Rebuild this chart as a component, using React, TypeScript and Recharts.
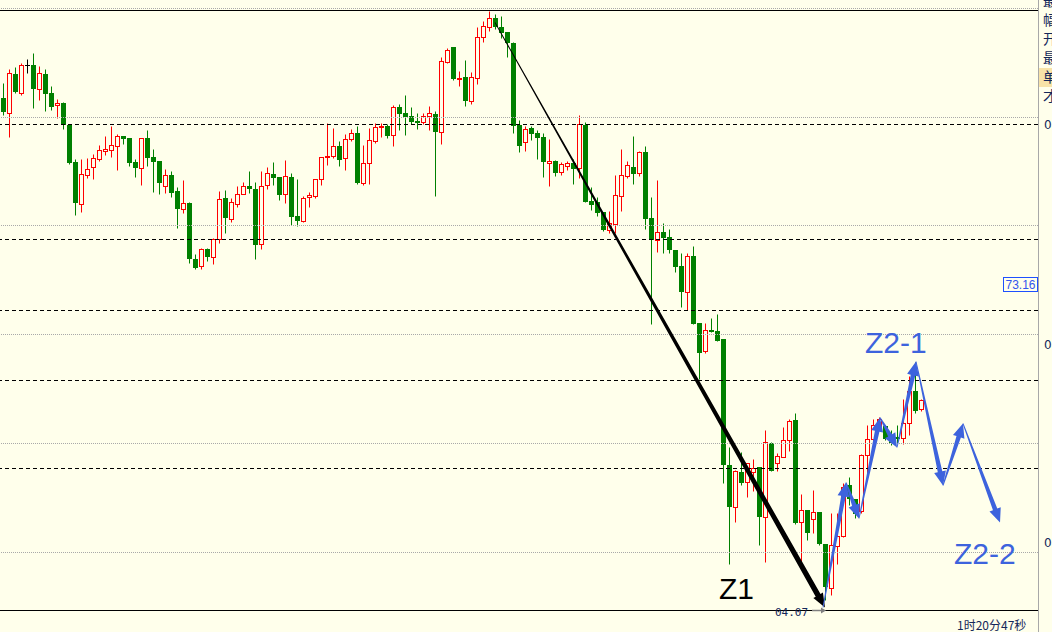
import React from 'react';
import { ComposedChart, Bar, Line, XAxis, YAxis, ReferenceLine } from 'recharts';

const BG = '#FFFFEB';
const UP = '#FF0000';
const DOWN = '#008000';
const BLUE = '#3D63DD';
const NAVY = '#14285A';

// OHLC in 1/10000 price units
const opens = [
  7512, 7497, 7536, 7517, 7545, 7545, 7521, 7536, 7517, 7505,
  7507, 7485, 7448, 7406, 7435, 7443, 7451, 7459, 7460, 7464,
  7474, 7472, 7448, 7442, 7472, 7453, 7449, 7424, 7435, 7419,
  7401, 7407, 7351, 7344, 7361, 7353, 7371, 7412, 7391, 7406,
  7416, 7424, 7421, 7366, 7425, 7436, 7433, 7416, 7433, 7394,
  7389, 7413, 7414, 7431, 7453, 7454, 7464, 7452, 7471, 7477,
  7427, 7447, 7469, 7483, 7484, 7475, 7503, 7497, 7494, 7489,
  7488, 7494, 7496, 7478, 7548, 7563, 7531, 7533, 7509, 7532,
  7573, 7583, 7592, 7583, 7578, 7567, 7485, 7468, 7482, 7477,
  7473, 7447, 7449, 7438, 7444, 7447, 7442, 7485, 7409, 7408,
  7398, 7380, 7386, 7414, 7434, 7443, 7437, 7458, 7392, 7370,
  7378, 7373, 7360, 7344, 7318, 7354, 7287, 7259, 7280, 7279,
  7271, 7145, 7103, 7138, 7128, 7138, 7143, 7093, 7167, 7147,
  7153, 7170, 7190, 7088, 7100, 7091, 7098, 7066, 7022, 7064,
  7074, 7125, 7111, 7099, 7155, 7171, 7183, 7184, 7172, 7173,
  7172, 7187, 7219, 7201,
];
const highs = [
  7527, 7541, 7543, 7547, 7551, 7557, 7544, 7541, 7524, 7511,
  7508, 7485, 7451, 7451, 7452, 7456, 7465, 7474, 7484, 7476,
  7474, 7472, 7451, 7472, 7480, 7461, 7449, 7441, 7439, 7423,
  7430, 7408, 7356, 7362, 7362, 7372, 7419, 7420, 7412, 7424,
  7428, 7439, 7428, 7439, 7443, 7448, 7433, 7450, 7437, 7431,
  7414, 7418, 7431, 7453, 7487, 7482, 7469, 7476, 7481, 7484,
  7465, 7482, 7487, 7487, 7486, 7505, 7506, 7515, 7503, 7497,
  7497, 7504, 7499, 7553, 7562, 7563, 7539, 7550, 7538, 7583,
  7589, 7599, 7596, 7594, 7578, 7568, 7490, 7484, 7484, 7480,
  7477, 7471, 7450, 7448, 7449, 7451, 7495, 7488, 7423, 7413,
  7398, 7399, 7435, 7461, 7449, 7474, 7459, 7464, 7413, 7430,
  7387, 7381, 7360, 7357, 7357, 7364, 7287, 7287, 7292, 7296,
  7271, 7163, 7140, 7158, 7147, 7151, 7143, 7180, 7168, 7157,
  7183, 7191, 7197, 7116, 7100, 7120, 7098, 7066, 7097, 7097,
  7127, 7133, 7111, 7156, 7185, 7191, 7193, 7185, 7180, 7185,
  7211, 7234, 7248, 7211,
];
const lows = [
  7495, 7473, 7517, 7515, 7537, 7502, 7510, 7499, 7500, 7492,
  7481, 7446, 7395, 7398, 7432, 7431, 7449, 7455, 7453, 7440,
  7466, 7444, 7433, 7425, 7444, 7418, 7416, 7417, 7413, 7382,
  7397, 7347, 7341, 7341, 7349, 7346, 7367, 7377, 7388, 7403,
  7416, 7417, 7351, 7361, 7421, 7425, 7410, 7407, 7385, 7384,
  7388, 7403, 7412, 7425, 7445, 7452, 7444, 7440, 7469, 7426,
  7425, 7426, 7467, 7473, 7472, 7464, 7480, 7475, 7486, 7481,
  7486, 7480, 7414, 7466, 7547, 7530, 7524, 7504, 7506, 7526,
  7568, 7579, 7581, 7572, 7553, 7477, 7458, 7459, 7470, 7451,
  7433, 7424, 7434, 7435, 7440, 7426, 7432, 7408, 7400, 7394,
  7379, 7377, 7377, 7399, 7432, 7426, 7434, 7381, 7286, 7358,
  7357, 7357, 7338, 7303, 7300, 7286, 7231, 7257, 7278, 7269,
  7127, 7046, 7088, 7125, 7113, 7119, 7065, 7048, 7139, 7139,
  7153, 7159, 7086, 7047, 7070, 7077, 7065, 7010, 7015, 7046,
  7073, 7105, 7092, 7097, 7137, 7163, 7180, 7170, 7165, 7167,
  7166, 7175, 7197, 7199,
];
const closes = [
  7498, 7537, 7518, 7545, 7545, 7521, 7537, 7516, 7503, 7507,
  7485, 7447, 7407, 7436, 7441, 7452, 7460, 7461, 7465, 7474,
  7471, 7447, 7442, 7472, 7452, 7448, 7427, 7435, 7417, 7401,
  7407, 7351, 7342, 7361, 7353, 7371, 7411, 7392, 7408, 7416,
  7424, 7421, 7365, 7424, 7437, 7432, 7415, 7434, 7393, 7389,
  7412, 7415, 7431, 7453, 7454, 7464, 7450, 7471, 7477, 7427,
  7447, 7470, 7483, 7484, 7474, 7503, 7496, 7493, 7488, 7487,
  7494, 7497, 7478, 7549, 7560, 7531, 7532, 7509, 7533, 7573,
  7584, 7592, 7583, 7577, 7567, 7484, 7464, 7481, 7476, 7472,
  7448, 7449, 7437, 7446, 7447, 7441, 7486, 7408, 7405, 7397,
  7380, 7387, 7415, 7435, 7445, 7436, 7458, 7391, 7370, 7378,
  7372, 7360, 7343, 7318, 7354, 7286, 7257, 7280, 7278, 7269,
  7145, 7103, 7139, 7127, 7147, 7142, 7093, 7168, 7139, 7154,
  7170, 7189, 7087, 7100, 7077, 7098, 7066, 7023, 7065, 7074,
  7123, 7111, 7096, 7155, 7171, 7185, 7191, 7171, 7167, 7171,
  7187, 7219, 7199, 7210,
];

const SLOT_COUNT = 173;
const PRICE_MIN = 7000;
const PRICE_MAX = 7610;

const dashedLevels = [7486, 7371, 7300, 7230, 7142];
const dottedLevels = [7602, 7493, 7385, 7276, 7167, 7058];
const frameLevel = 7600;
const axisTicks = [7486, 7266, 7068];

// annotation paths (x in candle-index units, p in price units)
const trendT = [82, 137];
const trendP = [7588, 7003];
const zigT = [136.67, 140.5, 142.67, 146.17, 149.0, 152.17, 156.67, 160.0, 166.17];
const zigP = [7003, 7128, 7092, 7193, 7163, 7249, 7125, 7187, 7088];

const sideLabels = ['最', '幅', '开', '最', '单', '才'];

const candleData = Array.from({ length: SLOT_COUNT }, (_, i) =>
  i < opens.length
    ? { i, range: [lows[i], highs[i]], open: opens[i], high: highs[i], low: lows[i], close: closes[i] }
    : { i, range: null }
);
const trendData = trendT.map((t, k) => ({ t, p: trendP[k] }));
const zigData = zigT.map((t, k) => ({ t, p: zigP[k] }));

function Candle(props: any) {
  const { x, y, width, height, payload } = props;
  if (!payload || payload.open == null || y == null || height == null) return null;
  const { open, close, high, low } = payload;
  const span = high - low;
  const k = span > 0 ? height / span : 1;
  const py = (p: number) => y + (high - p) * k;
  const cx = Math.floor(x + width / 2);
  const wx = cx + 0.5;
  const left = cx - 2;
  const yO = py(open);
  const yC = py(close);
  const top = Math.floor(Math.min(yO, yC));
  const bot = Math.floor(Math.max(yO, yC));
  if (close < open) {
    return (
      <g>
        <line x1={wx} x2={wx} y1={y} y2={y + height} stroke={DOWN} strokeWidth={1} />
        <rect x={left} y={top} width={5} height={Math.max(1, bot - top)} fill={DOWN} />
      </g>
    );
  }
  if (close > open) {
    return (
      <g>
        <line x1={wx} x2={wx} y1={y} y2={y + height} stroke={UP} strokeWidth={1} />
        <rect x={left + 0.5} y={top + 0.5} width={4} height={Math.max(1, bot - top)} fill={BG} stroke={UP} strokeWidth={1} />
      </g>
    );
  }
  return (
    <g>
      <line x1={wx} x2={wx} y1={y} y2={y + height} stroke="#000" strokeWidth={1} />
      <line x1={left} x2={left + 5} y1={top + 0.5} y2={top + 0.5} stroke="#000" strokeWidth={1} />
    </g>
  );
}

function makeArrowDot(color: string, w0: number, w1: number, headLen: number, headHalf: number) {
  return (props: any) => {
    const { index, points, cx, cy } = props;
    const key = `arrow-${color}-${index}`;
    if (!points || index === 0 || cx == null || cy == null) return <g key={key} />;
    const a = points[index - 1];
    const dx = cx - a.x;
    const dy = cy - a.y;
    const len = Math.hypot(dx, dy) || 1;
    const ux = dx / len;
    const uy = dy / len;
    const nx = -uy;
    const ny = ux;
    const bx = cx - ux * headLen;
    const by = cy - uy * headLen;
    const pts = [
      [a.x + (nx * w0) / 2, a.y + (ny * w0) / 2],
      [bx + (nx * w1) / 2, by + (ny * w1) / 2],
      [bx + nx * headHalf, by + ny * headHalf],
      [cx, cy],
      [bx - nx * headHalf, by - ny * headHalf],
      [bx - (nx * w1) / 2, by - (ny * w1) / 2],
      [a.x - (nx * w0) / 2, a.y - (ny * w0) / 2],
    ];
    return <polygon key={key} points={pts.map((p) => p.join(',')).join(' ')} fill={color} />;
  };
}

const trendDot = makeArrowDot('#000000', 0.8, 5.5, 14, 5.5);
const zigDot = makeArrowDot(BLUE, 0.9, 4.6, 14, 6);

const sideBaselines = [6, 25, 44, 63, 82, 101];

export default function App() {
  return (
    <div
      style={{
        position: 'absolute',
        left: 0,
        top: 0,
        width: 1052,
        height: 632,
        overflow: 'hidden',
        background: BG,
      }}
    >
      <ComposedChart
        width={1052}
        height={632.5}
        data={candleData}
        margin={{ top: 0.5, right: 0, bottom: 0, left: 0 }}
        barCategoryGap={0}
      >
        <XAxis
          xAxisId="c"
          dataKey="i"
          type="category"
          height={22}
          tick={false}
          tickLine={false}
          axisLine={{ stroke: '#000', strokeWidth: 1 }}
        />
        <XAxis xAxisId="n" dataKey="t" type="number" domain={[-0.5, SLOT_COUNT - 0.5]} hide />
        <YAxis
          orientation="right"
          width={14}
          domain={[PRICE_MIN, PRICE_MAX]}
          allowDataOverflow
          ticks={axisTicks}
          interval={0}
          axisLine={false}
          tickLine={false}
          tickSize={0}
          tickMargin={6}
          tickFormatter={(v: number) => (v / 10000).toFixed(4)}
          tick={{ fill: NAVY, fontSize: 12, fontFamily: 'DejaVu Sans' }}
        />
        {dottedLevels.map((p) => (
          <ReferenceLine key={`dot-${p}`} xAxisId="c" y={p} stroke="#A9A9A9" strokeDasharray="1 1" strokeWidth={1} />
        ))}
        {dashedLevels.map((p) => (
          <ReferenceLine key={`dash-${p}`} xAxisId="c" y={p} stroke="#000" strokeDasharray="4 3" strokeWidth={1} />
        ))}
        <ReferenceLine xAxisId="c" y={frameLevel} stroke="#000" strokeWidth={1} />
        <Bar xAxisId="c" dataKey="range" barSize={5} shape={Candle} isAnimationActive={false} />
        <Line
          xAxisId="n"
          data={trendData}
          dataKey="p"
          stroke="none"
          dot={trendDot}
          activeDot={false}
          isAnimationActive={false}
        />
        <Line
          xAxisId="n"
          data={zigData}
          dataKey="p"
          stroke="none"
          dot={zigDot}
          activeDot={false}
          isAnimationActive={false}
        />
      </ComposedChart>
      <svg
        width={1052}
        height={632}
        style={{ position: 'absolute', left: 0, top: 0, pointerEvents: 'none' }}
      >
        <line x1={1038.5} x2={1038.5} y1={0} y2={632} stroke="#A8A8A8" strokeWidth={1} />
        <rect x={1039} y={68} width={13} height={19} fill="#F8E3A8" />
        {sideLabels.map((s, k) => (
          <text
            key={k}
            x={1043}
            y={sideBaselines[k]}
            fontSize={14}
            fontFamily="Noto Sans CJK SC"
            fill={NAVY}
          >
            {s}
          </text>
        ))}
        <rect x={1003.5} y={277.5} width={34} height={14} fill={BG} stroke="#1E50FF" strokeWidth={1} />
        <text x={1020.5} y={289} fontSize={12} fontFamily="Liberation Sans" fill="#3355EE" textAnchor="middle">
          73.16
        </text>
        <text x={719} y={599} fontSize={30} fontFamily="Liberation Sans" fill="#000">
          Z1
        </text>
        <text x={865} y={353} fontSize={30} fontFamily="Liberation Sans" fill={BLUE}>
          Z2-1
        </text>
        <text x={954} y={564} fontSize={30} fontFamily="Liberation Sans" fill={BLUE}>
          Z2-2
        </text>
        <text x={775} y={616} fontSize={11} fontFamily="DejaVu Sans Mono" fill={NAVY}>
          04.07
        </text>
        <line x1={812} x2={823} y1={610.5} y2={610.5} stroke="#808080" strokeWidth={1.5} />
        <polygon points="826,610.5 821,607.5 821,613.5" fill="#808080" />
        <text x={957} y={630} fontSize={12} fontFamily="Noto Sans CJK SC" fill={NAVY}>
          1时20分47秒
        </text>
      </svg>
    </div>
  );
}
